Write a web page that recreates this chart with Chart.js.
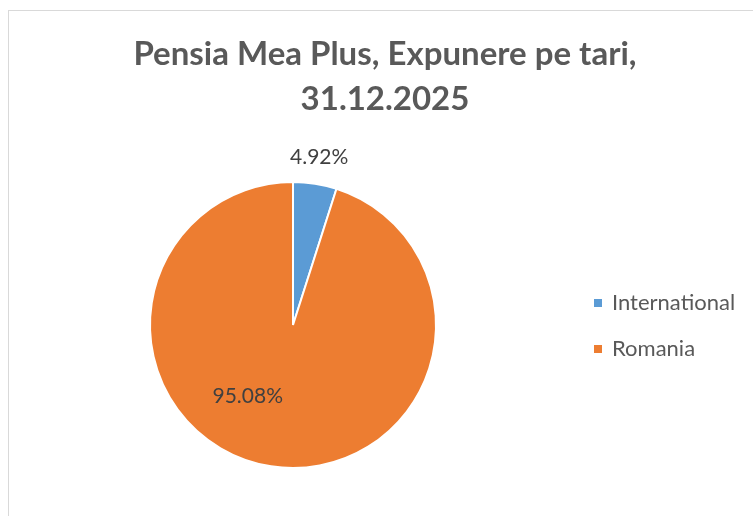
<!DOCTYPE html>
<html>
<head>
<meta charset="utf-8">
<script src="https://cdn.jsdelivr.net/npm/chart.js@4/dist/chart.umd.min.js"></script>
<style>
  html, body { margin: 0; padding: 0; background: #fff; overflow: hidden; }
  #box { position: absolute; left: 8px; top: 10px; border: 1px solid #d9d9d9; width: 752px; height: 510px; }
  canvas { display: block; }
</style>
</head>
<body>
<div id="box"><canvas id="pieChart" width="752" height="510"></canvas></div>
<script>
// chart data
const labels = ["International", "Romania"];
const values = [4.92, 95.08];
const colors = ["#5B9BD5", "#ED7D31"];
const titleLines = ["Pensia Mea Plus, Expunere pe tari,", "31.12.2025"];

// where each value label goes: angle shift from slice middle (deg) and distance as share of radius
const labelSpots = [
  { shift: 0, dist: 1.19 },
  { shift: 23.6, dist: 0.59 }
];

// title across the whole box (the built-in one gets squeezed by the padding)
const boxTitle = {
  id: "boxTitle",
  afterDraw(chart) {
    const ctx = chart.ctx;
    ctx.save();
    ctx.font = "bold 33px Lato";
    ctx.fillStyle = "#595959";
    ctx.textAlign = "center";
    ctx.textBaseline = "middle";
    titleLines.forEach((line, i) => {
      ctx.fillText(line, chart.width / 2, 43 + i * 45);
    });
    ctx.restore();
  }
};

// draws the percent labels
const valueLabels = {
  id: "valueLabels",
  afterDatasetsDraw(chart) {
    const ctx = chart.ctx;
    const meta = chart.getDatasetMeta(0);
    ctx.save();
    ctx.font = "21px Lato";
    ctx.fillStyle = "#404040";
    ctx.textAlign = "center";
    ctx.textBaseline = "middle";
    meta.data.forEach((arc, i) => {
      const p = arc.getProps(["x", "y", "startAngle", "endAngle", "outerRadius"], true);
      const mid = (p.startAngle + p.endAngle) / 2 + labelSpots[i].shift * Math.PI / 180;
      const r = p.outerRadius * labelSpots[i].dist;
      ctx.fillText(values[i].toFixed(2) + "%", p.x + Math.cos(mid) * r, p.y + Math.sin(mid) * r);
    });
    ctx.restore();
  }
};

// legend on the right, Excel style
const sideLegend = {
  id: "sideLegend",
  afterDraw(chart) {
    const ctx = chart.ctx;
    ctx.save();
    ctx.font = "22px Lato";
    ctx.textBaseline = "middle";
    labels.forEach((name, i) => {
      const y = 292 + i * 46;
      ctx.fillStyle = colors[i];
      ctx.fillRect(585, y - 4, 8, 8);
      ctx.fillStyle = "#595959";
      ctx.fillText(name, 603, y);
    });
    ctx.restore();
  }
};

const ctx = document.getElementById("pieChart").getContext("2d");
new Chart(ctx, {
  type: "pie",
  data: {
    labels: labels,
    datasets: [{
      data: values,
      backgroundColor: colors,
      borderColor: "#ffffff",
      borderWidth: 2
    }]
  },
  options: {
    responsive: false,
    animation: false,
    events: [],
    layout: { padding: { left: 140, right: 324, top: 120, bottom: 2 } },
    plugins: {
      legend: { display: false },
      tooltip: { enabled: false },
      title: { display: false }
    }
  },
  plugins: [boxTitle, valueLabels, sideLegend]
});
</script>
</body>
</html>
